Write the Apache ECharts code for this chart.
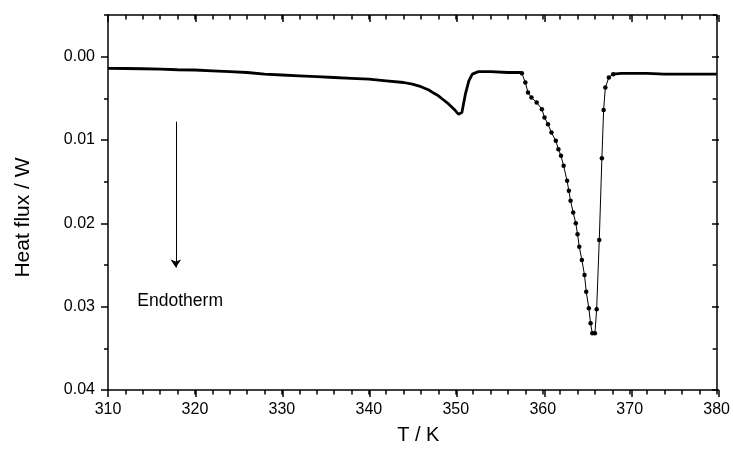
<!DOCTYPE html>
<html>
<head>
<meta charset="utf-8">
<script src="https://cdn.jsdelivr.net/npm/echarts@6/dist/echarts.min.js"></script>
<style>
html,body{margin:0;padding:0;background:#fff;}
#chart{width:733px;height:451px;}
</style>
</head>
<body>
<div id="chart"></div>
<script>
// ---- data ----
// broad baseline + first small peak (densely sampled, drawn thick)
const T_base1 = [310, 312, 314, 316, 318, 320, 322, 324, 326, 328, 330, 332, 334, 336, 338, 340, 342, 344, 345, 346, 346.9, 347.5, 348.0, 348.6, 349.2, 349.8, 350.3, 350.7, 351.1, 351.5, 351.9, 352.6, 354, 356, 357.4, 357.6];
const V_base1 = [0.0014, 0.00142, 0.00145, 0.0015, 0.00157, 0.0016, 0.0017, 0.0018, 0.0019, 0.0021, 0.0022, 0.0023, 0.0024, 0.0025, 0.0026, 0.0027, 0.0029, 0.0031, 0.0033, 0.0036, 0.0040, 0.0044, 0.0047, 0.0052, 0.0057, 0.0063, 0.0069, 0.0067, 0.0045, 0.0029, 0.0021, 0.0018, 0.0018, 0.0019, 0.0019, 0.0020];
// main endothermic peak (individual points visible)
const T_peak = [357.6, 358.0, 358.3, 358.7, 359.3, 359.9, 360.2, 360.6, 361.0, 361.5, 361.8, 362.1, 362.4, 362.8, 363.0, 363.2, 363.5, 363.8, 364.0, 364.2, 364.5, 364.8, 365.0, 365.3, 365.5, 365.7, 366.0, 366.2, 366.5, 366.8, 367.0, 367.2, 367.6, 368.1];
const V_peak = [0.0020, 0.0031, 0.0043, 0.0049, 0.0055, 0.0063, 0.0073, 0.0081, 0.0091, 0.0101, 0.0111, 0.0119, 0.0131, 0.0149, 0.0161, 0.0173, 0.0187, 0.0200, 0.0213, 0.0228, 0.0244, 0.0262, 0.0282, 0.0302, 0.0320, 0.0332, 0.0332, 0.0303, 0.0220, 0.0122, 0.0064, 0.0037, 0.0025, 0.0021];
// baseline after the peak
const T_base2 = [368.1, 369, 370, 372, 374, 376, 378, 380];
const V_base2 = [0.0021, 0.0020, 0.0020, 0.0020, 0.0021, 0.0021, 0.0021, 0.0021];

// axes
const X_MIN = 310, X_MAX = 380, X_MINOR_STEP = 2;
const X_MAJOR = [310, 320, 330, 340, 350, 360, 370, 380];
const Y_MIN = -0.005, Y_MAX = 0.04, Y_MINOR_STEP = 0.005;
const Y_MAJOR = [0, 0.01, 0.02, 0.03, 0.04];

// annotation (data units)
const ARROW_T = 317.8, ARROW_FROM = 0.0078, ARROW_TO = 0.0253;
const NOTE_TEXT = 'Endotherm', NOTE_T = 318.3, NOTE_V = 0.0294;

const zip = (a, b) => a.map((x, i) => [x, b[i]]);
const FONT = '"Liberation Sans", Arial, sans-serif';
const black = '#000';

const chart = echarts.init(document.getElementById('chart'), null, {renderer: 'canvas'});

// grid 0: frame lines, all ticks at the minor step (native), labels at majors
function xMain(pos, inside, labels) {
  const a = {
    type: 'value', gridIndex: 0, min: X_MIN, max: X_MAX, interval: X_MINOR_STEP, position: pos,
    splitLine: {show: false},
    axisLine: {show: true, onZero: false, lineStyle: {color: black, width: 1.5}},
    axisTick: {show: true, inside: inside, length: 4.5, lineStyle: {color: black, width: 1.5}},
    axisLabel: {show: false}
  };
  if (labels) {
    a.axisLabel = {show: true, customValues: X_MAJOR, color: black, fontSize: 16, fontFamily: FONT, margin: 12};
    a.name = 'T / K';
    a.nameLocation = 'middle';
    a.nameGap = 35;
    a.nameTextStyle = {color: black, fontSize: 20, fontFamily: FONT, padding: [0, 0, 0, 12]};
  }
  return a;
}
function yMain(pos, inside, labels) {
  const a = {
    type: 'value', gridIndex: 0, inverse: true, min: Y_MIN, max: Y_MAX, interval: Y_MINOR_STEP, position: pos,
    splitLine: {show: false},
    axisLine: {show: true, onZero: false, lineStyle: {color: black, width: 1.5}},
    axisTick: {show: true, inside: inside, length: 4, lineStyle: {color: black, width: 1.5}},
    axisLabel: {show: false}
  };
  if (labels) {
    a.axisLabel = {show: true, customValues: Y_MAJOR, color: black, fontSize: 16, fontFamily: FONT, margin: 13,
      formatter: v => Number(v).toFixed(2)};
    a.name = 'Heat flux / W';
    a.nameLocation = 'middle';
    a.nameGap = 74;
    a.nameRotate = 90;
    a.nameTextStyle = {color: black, fontSize: 21, fontFamily: FONT, padding: [0, 30, 0, 0]};
  }
  return a;
}
// grid 1: longer ticks at the majors
function xLong(pos, inside) {
  return {
    type: 'value', gridIndex: 1, min: X_MIN, max: X_MAX, position: pos,
    splitLine: {show: false},
    axisLine: {show: false, onZero: false},
    axisTick: {show: true, inside: inside, length: 7, customValues: X_MAJOR, lineStyle: {color: black, width: 1.5}},
    axisLabel: {show: false}
  };
}
function yLong(pos, inside) {
  return {
    type: 'value', gridIndex: 1, inverse: true, min: Y_MIN, max: Y_MAX, position: pos,
    splitLine: {show: false},
    axisLine: {show: false, onZero: false},
    axisTick: {show: true, inside: inside, length: 7, customValues: Y_MAJOR, lineStyle: {color: black, width: 1.5}},
    axisLabel: {show: false}
  };
}

const GRID = {left: 108, right: 14, top: 15, bottom: 61, containLabel: false};

chart.setOption({
  animation: false,
  backgroundColor: '#fff',
  textStyle: {fontFamily: FONT},
  grid: [Object.assign({}, GRID), Object.assign({}, GRID)],
  xAxis: [
    xMain('bottom', false, true),
    xMain('top', true, false),
    xLong('bottom', false),
    xLong('top', true)
  ],
  yAxis: [
    yMain('left', false, true),
    yMain('right', true, false),
    yLong('left', false),
    yLong('right', true)
  ],
  series: [
    {
      type: 'line', name: 'baseline1', xAxisIndex: 0, yAxisIndex: 0,
      data: zip(T_base1, V_base1), showSymbol: false, smooth: false,
      lineStyle: {color: black, width: 2.8}, itemStyle: {color: black},
      markLine: {
        silent: true, symbol: ['none', 'arrow'], symbolSize: 8, label: {show: false},
        lineStyle: {color: black, width: 1, type: 'solid'},
        data: [[{coord: [ARROW_T, ARROW_FROM]}, {coord: [ARROW_T, ARROW_TO]}]]
      },
      markPoint: {
        silent: true, symbol: 'circle', symbolSize: 0,
        label: {show: true, position: 'inside', formatter: NOTE_TEXT, color: black, fontSize: 17.5, fontFamily: FONT},
        data: [{coord: [NOTE_T, NOTE_V]}]
      }
    },
    {
      type: 'line', name: 'peak', xAxisIndex: 0, yAxisIndex: 0,
      data: zip(T_peak, V_peak), showSymbol: true, symbol: 'circle', symbolSize: 4.5,
      lineStyle: {color: black, width: 1}, itemStyle: {color: black}
    },
    {
      type: 'line', name: 'baseline2', xAxisIndex: 0, yAxisIndex: 0,
      data: zip(T_base2, V_base2), showSymbol: false,
      lineStyle: {color: black, width: 2.8}, itemStyle: {color: black}
    }
  ]
});
</script>
</body>
</html>
